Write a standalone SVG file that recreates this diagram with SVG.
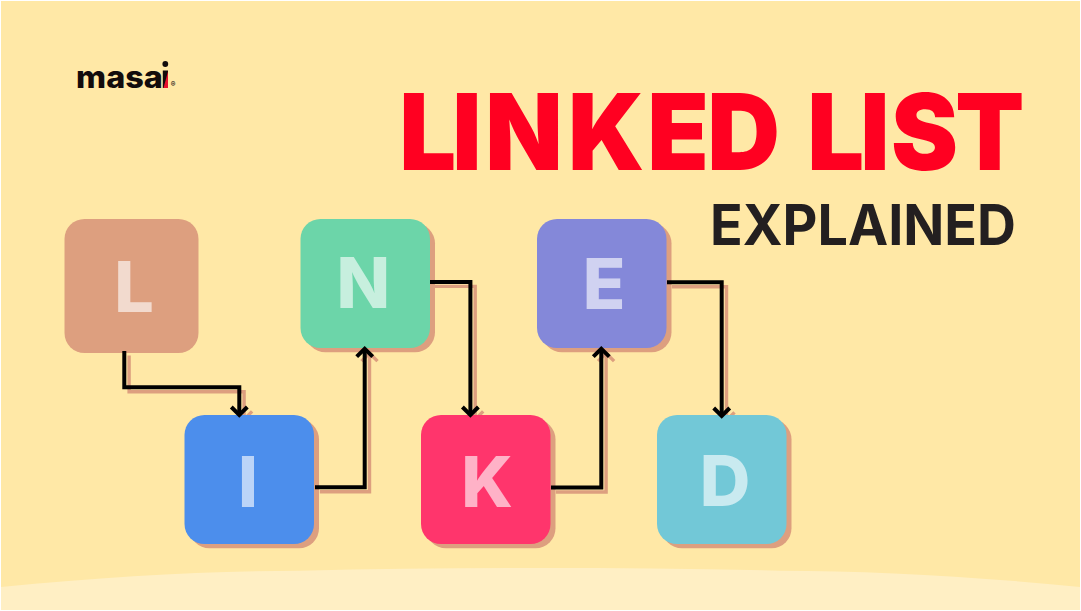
<svg xmlns="http://www.w3.org/2000/svg" width="1081" height="611" viewBox="0 0 1081 611">
<style>
.sh{fill:#dd9f7f}
.c{fill:none;stroke:#000;stroke-width:4;stroke-linejoin:miter}
.cs{fill:none;stroke:#dd9f7f;stroke-width:3.4;stroke-linejoin:miter}
.lt{font-family:"Inter","Liberation Sans",sans-serif;font-weight:800;font-size:70px;fill:#fff;fill-opacity:.62;text-anchor:middle}
</style>
<defs>
<g id="wires">
<path d="M124.300 351V387.300H239.300V414"/>
<path d="M231.300 407L239.300 415L247.300 407"/>
<path d="M315 487.300H364.700V350"/>
<path d="M356.700 356.700L364.700 348.800L372.700 356.700"/>
<path d="M430 282H470.400V414"/>
<path d="M462.400 407L470.400 415L478.400 407"/>
<path d="M551 487.600H601.300V350"/>
<path d="M593.300 356.700L601.300 348.800L609.300 356.700"/>
<path d="M667 282.300H721.700V415"/>
<path d="M713.700 408L721.700 416L729.700 408"/>
</g>
</defs>
<rect x="0" y="0" width="1081" height="611" fill="#fff"/>
<rect x="1" y="1" width="1079" height="609" fill="#ffe8a6"/>
<path d="M1 587C110 576 210 571 300 570.700C380 568.500 460 568 540 568C620 568 700 568.500 780 570.700C870 571 970 576 1080 587V610H1Z" fill="#ffefc4"/>
<g id="logo">
<text transform="matrix(1.08 0 0 1 0 0)" x="70.500" y="88" font-family="Inter,'Liberation Sans',sans-serif" font-weight="800" font-size="30" fill="#120c0c">masa</text>
<rect x="162.800" y="70.500" width="5.200" height="17.500" fill="#120c0c"/>
<path d="M168 71.500V88H163.500Z" fill="#e8112d"/>
<circle cx="165.300" cy="64" r="2.900" fill="#120c0c"/>
<text x="173.200" y="87" font-family="Inter,'Liberation Sans',sans-serif" font-weight="600" font-size="7" fill="#120c0c" text-anchor="middle">®</text>
</g>
<g id="title">
<text transform="matrix(.95 0 0 1 0 0)" x="420.200 476 510.700 598 681.300 744.400 800 849.700 905.500 938 1005.500" y="170" font-family="Inter,'Liberation Sans',sans-serif" font-weight="900" font-size="106" fill="#ff0021">LINKED LIST</text>
<text x="710" y="245" font-family="Inter,'Liberation Sans',sans-serif" font-weight="650" font-size="56" fill="#231f20" textLength="306" lengthAdjust="spacingAndGlyphs">EXPLAINED</text>
</g>
<g id="connector-shadows" class="cs" transform="translate(4.800 4.400)"><use href="#wires"/></g>
<g id="node-L"><rect x="64.500" y="219" width="134" height="134" rx="20" fill="#dd9f7f"/><text class="lt" x="134" y="312">L</text></g>
<g id="node-I"><rect x="189.500" y="419.300" width="129.500" height="129" rx="20" class="sh"/><rect x="184.500" y="415" width="129.500" height="129" rx="20" fill="#4c8eec"/><text class="lt" x="248" y="507">I</text></g>
<g id="node-N"><rect x="305.500" y="223.300" width="129.500" height="129" rx="20" class="sh"/><rect x="300.500" y="219" width="129.500" height="129" rx="20" fill="#6cd5a9"/><text class="lt" x="363.300" y="308.300">N</text></g>
<g id="node-K"><rect x="426" y="419.300" width="129.500" height="129" rx="20" class="sh"/><rect x="421" y="415" width="129.500" height="129" rx="20" fill="#ff356c"/><text class="lt" x="487" y="507">K</text></g>
<g id="node-E"><rect x="542" y="223.300" width="129.500" height="129" rx="20" class="sh"/><rect x="537" y="219" width="129.500" height="129" rx="20" fill="#8488d9"/><text class="lt" x="604" y="309">E</text></g>
<g id="node-D"><rect x="662" y="419.300" width="129.500" height="129" rx="20" class="sh"/><rect x="657" y="415" width="129.500" height="129" rx="20" fill="#72c8d7"/><text class="lt" x="725" y="506">D</text></g>
<g id="connectors" class="c"><use href="#wires"/></g>
</svg>
